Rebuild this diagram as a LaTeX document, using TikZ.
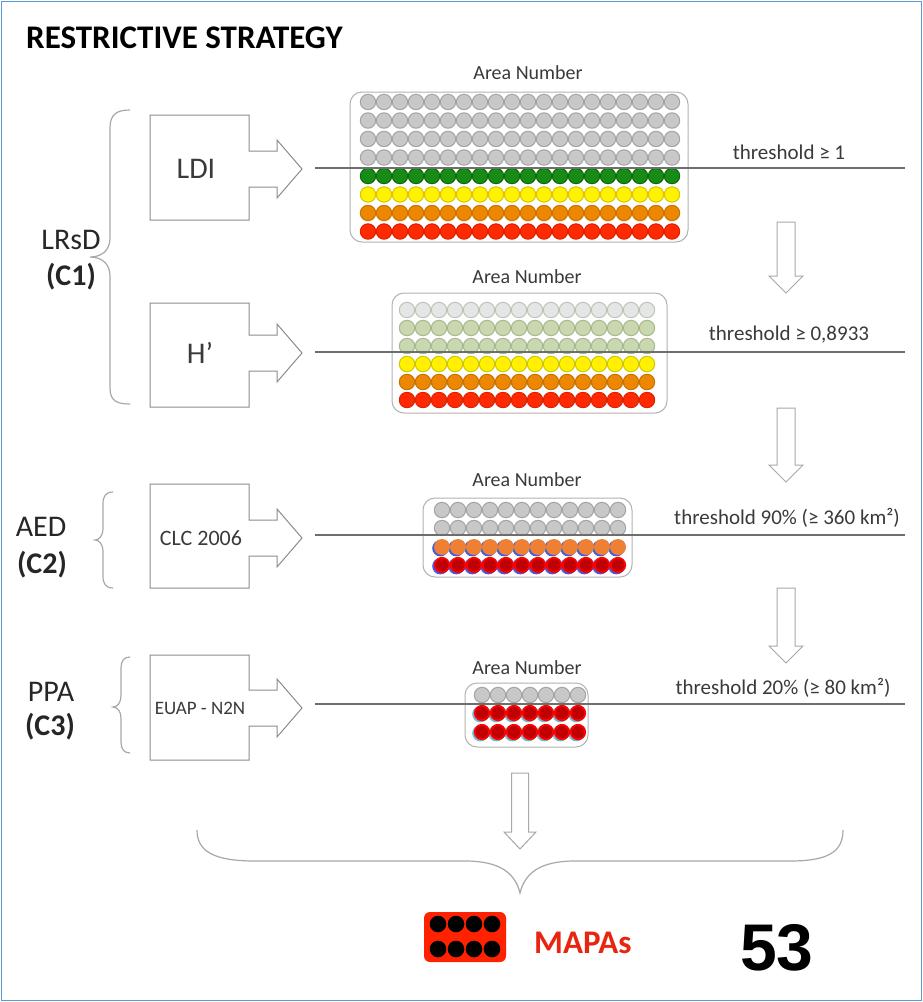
\documentclass[tikz,border=0pt]{standalone}
\usepackage{fontspec}
\setmainfont{Carlito}
\newfontfamily\numfont{Liberation Sans}
\definecolor{frame}{HTML}{5B9BD5}
\definecolor{outl}{HTML}{8C8C8C}
\definecolor{arrl}{HTML}{A8A8A8}
\definecolor{hl}{HTML}{6E6E6E}
\definecolor{txt}{HTML}{3A3A3A}
\definecolor{cgray}{HTML}{C8C8C8}
\definecolor{cgrayd}{HTML}{A4A4A4}
\definecolor{cgreen}{HTML}{168C16}
\definecolor{cgreend}{HTML}{0C6A0C}
\definecolor{cyel}{HTML}{FFF200}
\definecolor{cyeld}{HTML}{D6C400}
\definecolor{corg}{HTML}{EC8700}
\definecolor{corgd}{HTML}{CC7000}
\definecolor{cred}{HTML}{FF2A00}
\definecolor{credd}{HTML}{DD2000}
\definecolor{clight}{HTML}{E6E6E6}
\definecolor{clightd}{HTML}{B8C8B0}
\definecolor{cpale}{HTML}{C9D8AE}
\definecolor{cpaled}{HTML}{A9B890}
\definecolor{corg2}{HTML}{EE8033}
\definecolor{cdark}{HTML}{C00000}
\definecolor{cbright}{HTML}{FF0000}
\definecolor{shblue}{HTML}{3C5EE6}
\definecolor{shcyan}{HTML}{6FB9D2}
\definecolor{mapared}{HTML}{E8250F}
\definecolor{iconred}{HTML}{FF2200}
\newcommand\circrow[6]{%
  \foreach \i in {1,...,#2} {\filldraw[fill=#4,draw=#5,line width=#6] ({#1+16*(\i-1)},#3) circle[radius=7.7pt];}}
\newcommand\shadowrow[5]{%
  \foreach \i in {1,...,#2} {\fill[#4] ({#1+16*(\i-1)-1.6},{#3+1.2}) circle[radius=8.2pt];}
  \foreach \i in {1,...,#2} {\filldraw[fill=#5,draw=cbright,line width=1.8pt] ({#1+16*(\i-1)},#3) circle[radius=7.2pt];}}
\newcommand\orgrow[3]{%
  \foreach \i in {1,...,#2} {\fill[shblue] ({#1+16*(\i-1)-1.6},{#3+1.2}) circle[radius=8.2pt];}
  \foreach \i in {1,...,#2} {\fill[corg2] ({#1+16*(\i-1)},#3) circle[radius=8pt];}}
\newcommand\boxarrow[3]{% top, bottom, centre
  \draw[boxline] (150,#1) -- (249,#1) -- (249,#3-18) -- (277,#3-18) -- (277,#3-29) -- (302,#3)
    -- (277,#3+29) -- (277,#3+18) -- (249,#3+18) -- (249,#2) -- (150,#2) -- cycle;}
\newcommand\hollowdown[5]{% x, top, tip, half stem, half head
  \draw[arrline] (#1-#4,#2) -- (#1+#4,#2) -- (#1+#4,#3-17) -- (#1+#5,#3-17) -- (#1,#3)
    -- (#1-#5,#3-17) -- (#1-#4,#3-17) -- cycle;}
\begin{document}
\begin{tikzpicture}[x=1pt,y=-1pt,
  boxline/.style={draw=outl,line width=1pt,line join=miter},
  arrline/.style={draw=arrl,line width=1pt,fill=white},
  panel/.style={draw=black!30,line width=1pt,rounded corners=12pt},
  brace/.style={draw=arrl,line width=1.2pt},
  hline/.style={draw=hl,line width=1.4pt},
  arealbl/.style={font=\fontsize{20}{22}\selectfont,text=txt,inner sep=0pt},
  thrlbl/.style={font=\fontsize{21}{23}\selectfont,text=txt,inner sep=0pt},
  sidelbl/.style={font=\fontsize{30}{32}\selectfont,text=black!85,inner sep=0pt},
  sidelblb/.style={font=\fontsize{30}{32}\selectfont\bfseries,text=black!85,inner sep=0pt},
  boxlbl/.style={text=txt,inner sep=0pt}]
\useasboundingbox (0,0) rectangle (923,1002);
\fill[white] (0,0) rectangle (923,1002);
\draw[frame,line width=1.5pt] (1.5,1.5) rectangle (921.5,1000.5);

% title
\node[anchor=west,inner sep=0pt,font=\fontsize{33}{35}\selectfont\bfseries] (title) at (26,38) {RESTRICTIVE STRATEGY};

% side labels
\node[sidelbl] (lrsd) at (71,240) {LRsD};
\node[sidelblb] (c1) at (71,277) {(C1)};
\node[sidelbl] (aed) at (41,527) {AED};
\node[sidelblb] (c2) at (42,565) {(C2)};
\node[sidelbl] (ppa) at (51,692) {PPA};
\node[sidelblb] (c3) at (50,727) {(C3)};

% braces
\draw[brace] (130,110) .. controls (117,110) and (110,114) .. (110,128) -- (110,238)
  .. controls (110,250) and (102,257) .. (90,257) .. controls (102,257) and (110,264) .. (110,276)
  -- (110,388) .. controls (110,401) and (117,404) .. (130,404);
\draw[brace] (113,492) .. controls (106,492) and (103,496) .. (103,504) -- (103,528)
  .. controls (103,536) and (99,540) .. (95,540) .. controls (99,540) and (103,544) .. (103,552)
  -- (103,576) .. controls (103,584) and (106,588) .. (113,588);
\draw[brace] (130,657) .. controls (124,657) and (121,661) .. (121,668) -- (121,696)
  .. controls (121,703) and (117,707) .. (113,707) .. controls (117,707) and (121,711) .. (121,718)
  -- (121,742) .. controls (121,749) and (124,753) .. (130,753);
\draw[brace] (197,830) .. controls (197,852) and (215,861) .. (255,861) -- (465,861)
  .. controls (500,861) and (515,873) .. (520,893) .. controls (525,873) and (540,861) .. (575,861)
  -- (790,861) .. controls (828,861) and (843,852) .. (843,830);

% boxes with arrows
\boxarrow{115}{220}{169}
\node[boxlbl,font=\fontsize{30}{32}\selectfont] (ldi) at (196,169) {LDI};
\boxarrow{303}{407}{353}
\node[boxlbl,font=\fontsize{30}{32}\selectfont] (h) at (200,353) {H’};
\boxarrow{484}{588}{538}
\node[boxlbl,font=\fontsize{22}{24}\selectfont] (clc) at (201,538) {CLC 2006};
\boxarrow{655}{760}{708}
\node[boxlbl,font=\fontsize{19}{21}\selectfont] (euap) at (200,708) {EUAP - N2N};

% panels
\draw[panel] (350,92) rectangle (688,242);
\node[arealbl] (an1) at (528,73) {Area Number};
\circrow{368}{20}{102}{cgray}{cgrayd}{1pt}
\circrow{368}{20}{120.5}{cgray}{cgrayd}{1pt}
\circrow{368}{20}{139}{cgray}{cgrayd}{1pt}
\circrow{368}{20}{157.5}{cgray}{cgrayd}{1pt}
\circrow{368}{20}{176}{cgreen}{cgreend}{1pt}
\circrow{368}{20}{194.5}{cyel}{cyeld}{1pt}
\circrow{368}{20}{213}{corg}{corgd}{1pt}
\circrow{368}{20}{231.5}{cred}{credd}{1pt}

\draw[panel] (392,293) rectangle (667,413);
\node[arealbl] (an2) at (527,277) {Area Number};
\circrow{407}{16}{310}{clight}{clightd}{1pt}
\circrow{407}{16}{328}{cpale}{cpaled}{1pt}
\circrow{407}{16}{346}{cpale}{cpaled}{1pt}
\circrow{407}{16}{364}{cyel}{cyeld}{1pt}
\circrow{407}{16}{382}{corg}{corgd}{1pt}
\circrow{407}{16}{400}{cred}{credd}{1pt}

\draw[panel] (423,498) rectangle (632,577);
\node[arealbl] (an3) at (527,480) {Area Number};
\circrow{442}{12}{510}{cgray}{cgrayd}{1pt}
\circrow{442}{12}{528}{cgray}{cgrayd}{1pt}
\orgrow{442}{12}{547}
\shadowrow{442}{12}{565}{shblue}{cdark}

\draw[panel] (465,683) rectangle (588,747);
\node[arealbl] (an4) at (527,668) {Area Number};
\circrow{482}{7}{695}{cgray}{cgrayd}{1pt}
\shadowrow{482}{7}{713}{shcyan}{cdark}
\shadowrow{482}{7}{732}{shcyan}{cdark}

% threshold lines
\coordinate (l1s) at (315,168); \coordinate (l1e) at (905,168);
\coordinate (l2s) at (315,352); \coordinate (l2e) at (905,352);
\coordinate (l3s) at (315,535); \coordinate (l3e) at (905,535);
\coordinate (l4s) at (315,704); \coordinate (l4e) at (905,704);
\draw[hline] (l1s) -- (l1e);
\draw[hline] (l2s) -- (l2e);
\draw[hline] (l3s) -- (l3e);
\draw[hline] (l4s) -- (l4e);
\node[thrlbl] (t1) at (789,152) {threshold ≥ 1};
\node[thrlbl] (t2) at (789,335) {threshold ≥ 0,8933};
\node[thrlbl] (t3) at (787,518) {threshold 90\% (≥ 360 km²)};
\node[thrlbl] (t4) at (783,688) {threshold 20\% (≥ 80 km²)};

% down arrows
\hollowdown{786}{222}{293}{9}{17}
\hollowdown{786}{408}{482}{9}{17}
\hollowdown{786}{588}{663}{9}{17}
\hollowdown{520}{773}{849}{8.5}{16}

% MAPAs
\fill[iconred,rounded corners=6pt] (424,912) rectangle (506,962);
\foreach \xx in {438,456,474,492} {
  \fill[black] (\xx,924) circle[radius=8.3pt];
  \fill[black] (\xx,949) circle[radius=8.3pt];
}
\node[anchor=west,inner sep=0pt,text=mapared,font=\fontsize{33}{35}\selectfont\bfseries] (mapas) at (534,943) {MAPAs};
\node[inner sep=0pt,font=\numfont\fontsize{66}{68}\selectfont\bfseries] (num) at (777,948) {53};
\end{tikzpicture}
\end{document}
